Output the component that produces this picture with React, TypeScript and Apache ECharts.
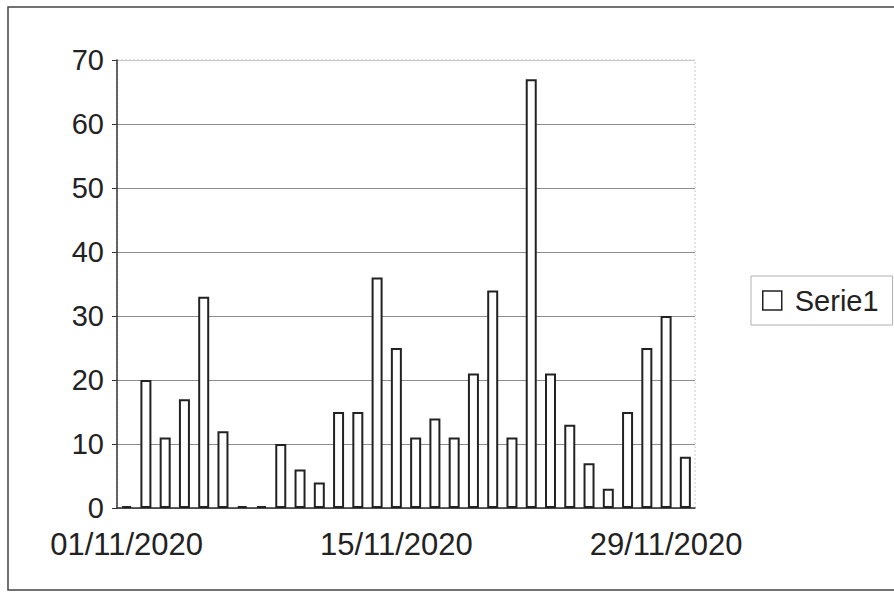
import React, { useEffect, useRef } from "react";
import * as echarts from "echarts";

const categories: string[] = [
  "01/11/2020", "02/11/2020", "03/11/2020", "04/11/2020", "05/11/2020",
  "06/11/2020", "07/11/2020", "08/11/2020", "09/11/2020", "10/11/2020",
  "11/11/2020", "12/11/2020", "13/11/2020", "14/11/2020", "15/11/2020",
  "16/11/2020", "17/11/2020", "18/11/2020", "19/11/2020", "20/11/2020",
  "21/11/2020", "22/11/2020", "23/11/2020", "24/11/2020", "25/11/2020",
  "26/11/2020", "27/11/2020", "28/11/2020", "29/11/2020", "30/11/2020",
];

const serie1: number[] = [
  0, 20, 11, 17, 33, 12, 0, 0, 10, 6,
  4, 15, 15, 36, 25, 11, 14, 11, 21, 34,
  11, 67, 21, 13, 7, 3, 15, 25, 30, 8,
];

const seriesName = "Serie1";
const yMin = 0;
const yMax = 70;
const yStep = 10;

const FONT = '"Liberation Sans", Arial, sans-serif';

export default function App() {
  const ref = useRef<HTMLDivElement>(null);

  useEffect(() => {
    if (!ref.current) return;
    const chart = echarts.init(ref.current, undefined, { renderer: "svg" });
    chart.setOption({
      animation: false,
      backgroundColor: "#ffffff",
      textStyle: { fontFamily: FONT },
      graphic: [
        {
          type: "rect",
          shape: { x: 8, y: 7, width: 900, height: 583 },
          style: { fill: "none", stroke: "#444", lineWidth: 1.5 },
          silent: true,
        },
        {
          type: "rect",
          shape: { x: 117, y: 60, width: 578, height: 448 },
          style: { fill: "none", stroke: "#c8c8c8", lineWidth: 1, lineDash: [2, 2] },
          silent: true,
          z: -1,
        },
      ],
      grid: { left: 117, right: 199, top: 60, bottom: 87, containLabel: false },
      legend: {
        data: [seriesName],
        left: 751,
        top: 276,
        orient: "vertical",
        icon: "rect",
        itemWidth: 19,
        itemHeight: 19,
        itemGap: 0,
        padding: [10, 14, 10, 11],
        borderColor: "#b0b0b0",
        borderWidth: 1,
        itemStyle: { color: "#ffffff", borderColor: "#222", borderWidth: 1.5 },
        textStyle: { fontSize: 29, color: "#222", fontFamily: FONT, padding: [0, 0, 0, 8] },
      },
      xAxis: {
        type: "category",
        data: categories,
        axisLine: { show: true, lineStyle: { color: "#333", width: 1.5 } },
        axisTick: { show: false },
        axisLabel: {
          interval: 13,
          fontSize: 31,
          color: "#222",
          margin: 21,
          fontFamily: FONT,
        },
        splitLine: { show: false },
      },
      yAxis: {
        type: "value",
        min: yMin,
        max: yMax,
        interval: yStep,
        axisLine: { show: true, lineStyle: { color: "#333", width: 1.5 } },
        axisTick: { show: true, length: 5, inside: false, lineStyle: { color: "#333" } },
        axisLabel: { fontSize: 29, color: "#222", margin: 13, fontFamily: FONT },
        splitLine: {
          show: true,
          lineStyle: {
            color: ["#8c8c8c", "#8c8c8c", "#8c8c8c", "#8c8c8c", "#8c8c8c", "#8c8c8c", "#8c8c8c", "#c8c8c8"],
            width: 1.2,
          },
        },
      },
      series: [
        {
          name: seriesName,
          type: "bar",
          data: serie1,
          barWidth: 11,
          barMinHeight: 2,
          itemStyle: { color: "#ffffff", borderColor: "#222", borderWidth: 2 },
        },
      ],
    });
    return () => chart.dispose();
  }, []);

  return (
    <div
      ref={ref}
      style={{ position: "fixed", left: 0, top: 0, width: 894, height: 595 }}
    />
  );
}
